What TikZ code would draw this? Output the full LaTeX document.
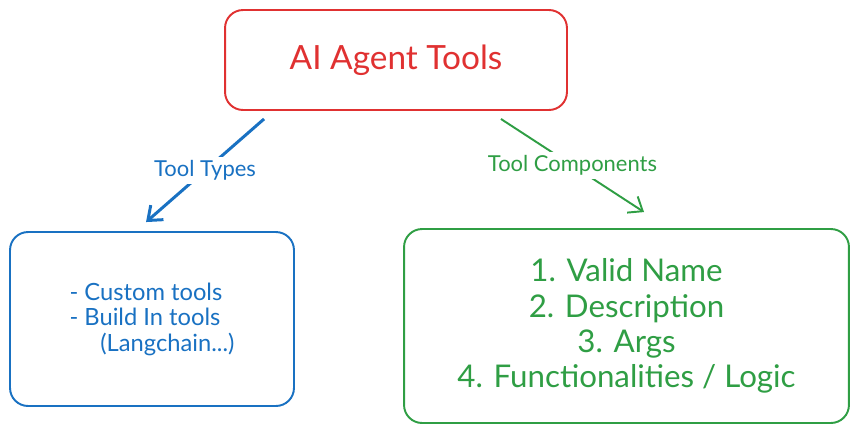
\documentclass[tikz,border=0pt]{standalone}
\usepackage{fontspec}
\setmainfont{Lato}
\usepackage{tikz}
\usetikzlibrary{arrows.meta}
\definecolor{rd}{HTML}{E03131}
\definecolor{bl}{HTML}{1971C2}
\definecolor{gn}{HTML}{2F9E44}
\tikzstyle{box} = [draw, rounded corners=0.36cm, line width=1.1pt, align=center]
\tikzstyle{lbl} = [fill=white, inner sep=2pt, font=\fontsize{12.5}{14}\selectfont]
\tikzstyle{link} = [-{Straight Barb[length=7pt,width=11pt]}]

\begin{document}
\begin{tikzpicture}[x=0.02cm,y=-0.02cm]
			\useasboundingbox (0,0) rectangle (859,434);
			\node[box,rd,minimum width=6.84cm,minimum height=2cm,font=\fontsize{19}{21}\selectfont] (title) at (396,60) {AI Agent Tools};
			\node[box,bl,minimum width=5.68cm,minimum height=3.48cm,align=left,font=\fontsize{13.5}{14.5}\selectfont] (types) at (152,319) {- Custom tools\\- Build In tools\\\hspace{1.3em}(Langchain...)};
			\node[box,gn,minimum width=8.9cm,minimum height=3.88cm,font=\fontsize{17.8}{20}\selectfont] (comp) at (626.5,326) {1. Valid Name\\2. Description\\3. Args\\4. Functionalities / Logic};
			\coordinate (typesfrom) at ([xshift=0.8cm,yshift=-0.16cm]title.south west);
			\coordinate (typesto) at ([xshift=2.74cm,yshift=0.18cm]types.north west);
			\coordinate (compfrom) at ([xshift=-1.34cm,yshift=-0.16cm]title.south east);
			\coordinate (compto) at ([xshift=4.82cm,yshift=0.32cm]comp.north west);
			\draw[link,bl,line width=1.7pt] (typesfrom)--node[lbl]{Tool Types} (typesto);
			\draw[link,gn,line width=1.1pt] (compfrom)--node[lbl]{Tool Components} (compto);
		\end{tikzpicture}
\end{document}
